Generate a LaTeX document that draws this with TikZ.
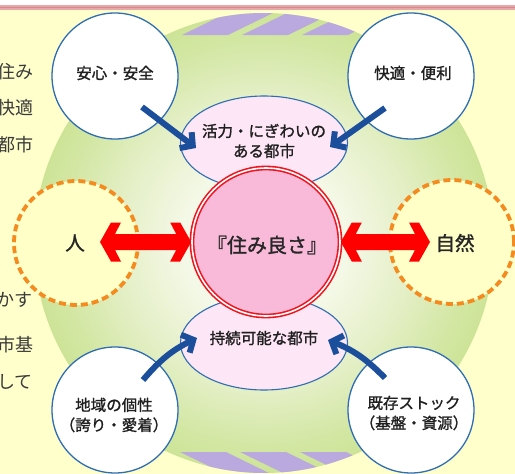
\documentclass[tikz,border=0pt]{standalone}
\usepackage{fontspec}
\newfontfamily\jp[FakeBold=1.3]{Noto Sans CJK JP}
\newfontfamily\jps{Noto Sans CJK JP}
\usetikzlibrary{calc,arrows.meta,shapes.geometric}
\definecolor{bgyel}{HTML}{FFFFCC}
\definecolor{topred}{HTML}{E6A8A8}
\definecolor{topdark}{HTML}{D48888}
\definecolor{gc0}{HTML}{F4F8E6}
\definecolor{gc1}{HTML}{E4EFC6}
\definecolor{gc2}{HTML}{D3E7A4}
\definecolor{gc3}{HTML}{C7E08A}
\definecolor{stripecol}{HTML}{B9A9DF}
\definecolor{bline}{HTML}{2F6DB5}
\definecolor{ellfill}{HTML}{FDE6F5}
\definecolor{cpink}{HTML}{F8BAD8}
\definecolor{cred}{HTML}{F0141E}
\definecolor{aorange}{HTML}{F58A1F}
\definecolor{pyel}{HTML}{FFFFC8}
\definecolor{arrblue}{HTML}{1B4F9B}
\definecolor{arrred}{HTML}{FF0000}
\definecolor{sidegray}{HTML}{3A3A3A}
\pgfdeclareradialshading{greenball}{\pgfpoint{0bp}{0bp}}{color(0bp)=(gc0); color(9bp)=(gc0); color(16bp)=(gc1); color(22bp)=(gc2); color(28bp)=(gc3); color(50bp)=(gc3)}
\begin{document}
\begin{tikzpicture}[x=1pt,y=-1pt,
  lbl/.style={font=\jp\fontsize{15.5}{20}\selectfont, text=black!88, align=center, inner sep=0},
  bigtxt/.style={font=\jp\fontsize{19.5}{22}\selectfont, text=black!85, inner sep=0},
  side/.style={font=\jps\fontsize{18}{20}\selectfont, text=sidegray, anchor=east, inner sep=0},
  wcirc/.style={circle, draw=bline, line width=1.3, fill=white, minimum size=126, inner sep=0},
  pell/.style={ellipse, draw=bline, line width=1.1, fill=ellfill, minimum width=167, minimum height=94, inner sep=0},
  ocirc/.style={circle, draw=aorange, line width=3.8, dash pattern=on 7pt off 4pt, fill=pyel, minimum size=124, inner sep=0},
  barrow/.style={draw=arrblue, line width=6, -{Straight Barb[length=9pt,width=20pt]}},
  rarrow/.style={fill=arrred, to path={-- ($(\tikztostart)+(11,-19.5)$) -- ($(\tikztostart)+(21,-19.5)$) -- ($(\tikztostart)+(15,-8)$) -- ($(\tikztotarget)+(-15,-8)$) -- ($(\tikztotarget)+(-21,-19.5)$) -- ($(\tikztotarget)+(-11,-19.5)$) -- (\tikztotarget) -- ($(\tikztotarget)+(-11,19.5)$) -- ($(\tikztotarget)+(-21,19.5)$) -- ($(\tikztotarget)+(-15,8)$) -- ($(\tikztostart)+(15,8)$) -- ($(\tikztostart)+(21,19.5)$) -- ($(\tikztostart)+(11,19.5)$) -- cycle}}]
\useasboundingbox (0,0) rectangle (515,474);
\fill[bgyel] (0,0) rectangle (515,474);
\fill[white] (0,0) rectangle (515,5);
\fill[topred] (0,5) rectangle (515,9.5);
\draw[topdark, line width=1.2] (0,7.2) -- (515,7.2);

% cropped side text
\node[side] (s1) at (34,72) {住み};
\node[side] (s2) at (34,108) {快適};
\node[side] (s3) at (34,145) {都市};
\node[side] (s4) at (33,300) {かす};
\node[side] (s5) at (34,345) {市基};
\node[side] (s6) at (33,382) {して};

% big green ball
\node[circle, minimum size=460, shading=greenball, shade, inner sep=0] (ball) at (264,243) {};
\begin{scope}
\clip (ball.center) circle (230);
\foreach \x in {182,242,302} \fill[stripecol] (\x,35) -- (\x+46,35) -- (\x+91,13) -- (\x+45,13) -- cycle;
\foreach \x in {180,240,300} \fill[stripecol] (\x,452) -- (\x+46,452) -- (\x+91,474) -- (\x+45,474) -- cycle;
\end{scope}

% ellipses
\node[pell] (katsu) at (264,143) {};
\node[lbl] (katsut) at (264,141) {活力・にぎわいの\\ある都市};
\node[pell] (jizoku) at (264,343) {};
\node[lbl] (jizokut) at (264,338) {持続可能な都市};

% white circles
\node[wcirc] (anshin) at (115,76) {};
\node[lbl] (anshint) at (115,73) {安心・安全};
\node[wcirc] (kaiteki) at (411,76) {};
\node[lbl] (kaitekit) at (413,73) {快適・便利};
\node[wcirc] (chiiki) at (115,410) {};
\node[lbl] (chiikit) at (114,415) {地域の個性\\（誇り・愛着）};
\node[wcirc] (kizon) at (411,410) {};
\node[lbl] (kizont) at (414,413) {既存ストック\\（基盤・資源）};

% orange dashed circles
\node[ocirc] (hito) at (76,243) {};
\node[bigtxt] (hitot) at (75,243) {人};
\node[ocirc] (shizen) at (452,242) {};
\node[bigtxt] (shizent) at (455,243) {自然};

% centre circle
\node[circle, draw=cred, line width=1.6, double=white, double distance=1.6, fill=cpink, minimum size=148, inner sep=0] (sumi) at (266,242) {};
\node[bigtxt, font=\jp\fontsize{20}{22}\selectfont] (sumit) at (267,245) {『住み良さ』};

% red double arrows
\coordinate (la) at ($(hito)+(24,-1)$);
\coordinate (rb) at ($(shizen)+(-22,0)$);
\path[rarrow] (la) to (sumi.west);
\path[rarrow] (sumi.east) to (rb);

% blue arrows
\draw[barrow] ($(anshin)+(27,31)$) -- ($(katsu)+(-68,5)$);
\draw[barrow] ($(kaiteki)+(-26,32)$) -- ($(katsu)+(66,4)$);
\draw[barrow] ($(chiiki)+(28,-30)$) to[bend left=12] ($(jizoku)+(-67,-5)$);
\draw[barrow] ($(kizon)+(-26,-32)$) to[bend right=12] ($(jizoku)+(64,-3)$);
\end{tikzpicture}
\end{document}
